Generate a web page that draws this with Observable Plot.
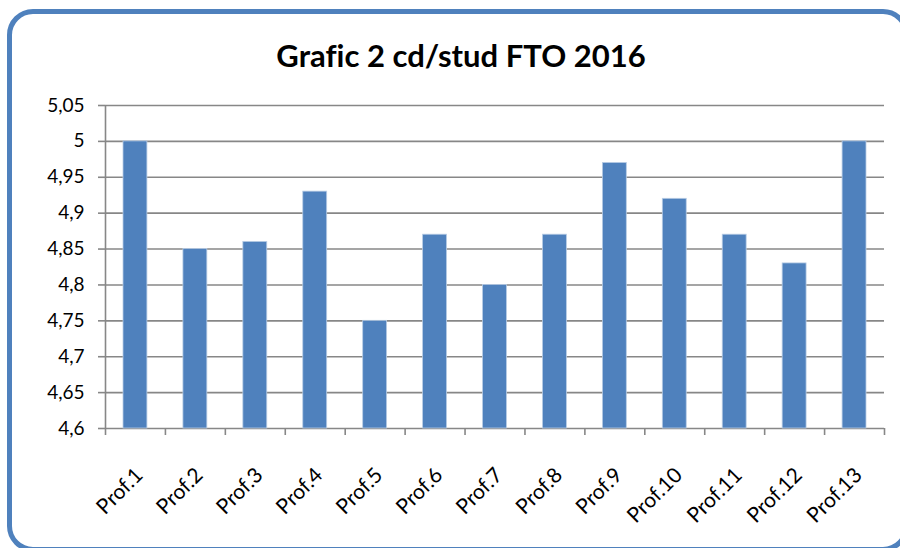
<!DOCTYPE html>
<html>
<head>
<meta charset="utf-8">
<script src="https://cdn.jsdelivr.net/npm/d3@7"></script>
<script src="https://cdn.jsdelivr.net/npm/@observablehq/plot@0.6"></script>
<style>
  html, body { margin: 0; padding: 0; background: #fff; }
  #wrap { position: relative; width: 900px; height: 548px; overflow: hidden; background: #fff; }
  #border { position: absolute; left: 7px; top: 9px; width: 902px; height: 543px; box-sizing: border-box;
            border: 5px solid #4F81BD; border-radius: 26px; }
  #title { position: absolute; left: 461px; top: 40px; transform: translateX(-50%); white-space: nowrap;
           font-family: Lato, "Noto Sans", sans-serif; font-weight: bold; font-size: 31px; line-height: 31px; color: #000;
           font-variant-ligatures: none; }
  #chart { position: absolute; left: 0; top: 0; }
  #chart text { font-variant-ligatures: none; }
</style>
</head>
<body>
<div id="wrap">
  <div id="border"></div>
  <div id="chart"></div>
  <div id="title">Grafic 2 cd/stud FTO 2016</div>
</div>
<script>
const categories = ["Prof.1","Prof.2","Prof.3","Prof.4","Prof.5","Prof.6","Prof.7","Prof.8","Prof.9","Prof.10","Prof.11","Prof.12","Prof.13"];
const values = [5, 4.85, 4.86, 4.93, 4.75, 4.87, 4.8, 4.87, 4.97, 4.92, 4.87, 4.83, 5];
const yTicks = [4.6, 4.65, 4.7, 4.75, 4.8, 4.85, 4.9, 4.95, 5, 5.05];
const yTickLabels = ["4,6", "4,65", "4,7", "4,75", "4,8", "4,85", "4,9", "4,95", "5", "5,05"];
const yMin = 4.6, yMax = 5.05;

const rows = categories.map((c, i) => ({prof: c, value: values[i], i}));
const boundaries = d3.range(categories.length + 1);
const font = "Lato, 'Noto Sans', sans-serif";
const gridColor = "#878787";

const chart = Plot.plot({
  width: 900,
  height: 548,
  marginLeft: 105,
  marginRight: 16,
  marginTop: 105,
  marginBottom: 120,
  style: {fontFamily: font, fontSize: "19px", color: "#000", background: "transparent", overflow: "visible"},
  x: {type: "linear", domain: [0, categories.length], axis: null},
  y: {domain: [yMin, yMax], axis: null},
  marks: [
    Plot.ruleY(yTicks, {stroke: gridColor, strokeWidth: 1.6}),
    Plot.axisY({ticks: yTicks, label: null, tickSize: 7, tickPadding: 14, stroke: gridColor, strokeWidth: 1.6,
      tickFormat: d => yTickLabels[yTicks.indexOf(d)], fontSize: 19, fill: "#000"}),
    Plot.axisX({ticks: boundaries, label: null, tickSize: 7, tickFormat: () => "", stroke: gridColor, strokeWidth: 1.6}),
    Plot.ruleX([0], {y1: yMin, y2: yMax, stroke: gridColor, strokeWidth: 1.6}),
    Plot.rectY(rows, {x1: "i", x2: d => d.i + 1, y1: yMin, y2: "value", insetLeft: 18, insetRight: 18,
      fill: "#4F81BD", stroke: "#B9CDE5", strokeWidth: 0.8}),
    Plot.text(rows, {x: d => d.i + 0.5, y: yMin, text: "prof", rotate: -45, textAnchor: "end", lineAnchor: "middle",
      dx: 4, dy: 43, fontSize: 21, fill: "#000"})
  ]
});
document.getElementById("chart").appendChild(chart);
</script>
</body>
</html>
